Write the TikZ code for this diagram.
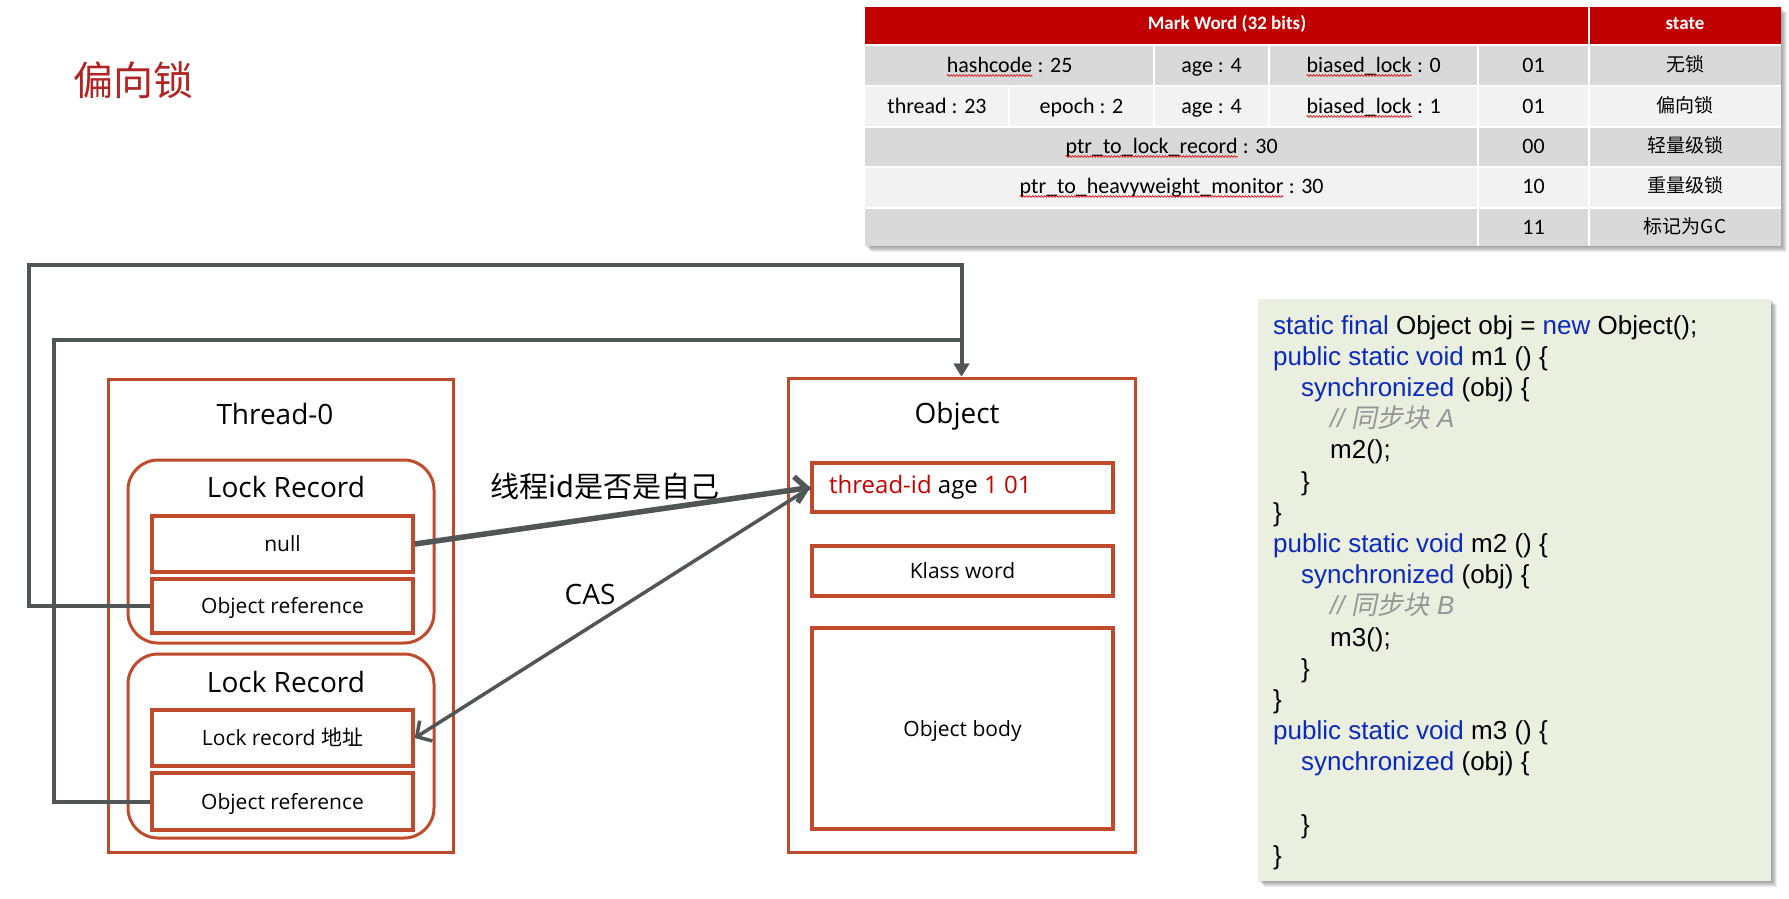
\documentclass[tikz,border=0pt]{standalone}
\usepackage{fontspec}
\setmainfont{Open Sans}
\newfontfamily\tblfont{Carlito}
\newfontfamily\cjkfont{Noto Sans CJK SC}
\newfontfamily\cjkslant{Noto Sans CJK SC}[FakeSlant=0.2]
\newfontfamily\codefont{Liberation Sans}
\usetikzlibrary{arrows.meta,decorations.pathmorphing}
\definecolor{boxred}{RGB}{191,74,44}
\definecolor{conngray}{RGB}{80,86,86}
\definecolor{titlered}{RGB}{178,36,36}
\definecolor{hdrred}{RGB}{192,0,0}
\definecolor{rowdark}{RGB}{217,217,217}
\definecolor{rowlight}{RGB}{242,242,242}
\definecolor{codebg}{RGB}{235,239,223}
\definecolor{kwblue}{RGB}{10,42,190}
\definecolor{cmtgray}{RGB}{150,150,150}
\definecolor{tidred}{RGB}{200,0,0}
\newcommand\fsz[1]{\fontsize{#1}{#1}\selectfont}
\newcommand\kwd[1]{\textcolor{kwblue}{#1}}
\newcommand\cmnt[1]{\textcolor{cmtgray}{\itshape // {\cjkslant 同步块} #1}}
\newcommand\sqw[1]{\tikz[baseline=(sqwn.base)]{\node[inner sep=0pt,outer sep=0pt,anchor=base](sqwn){#1};\draw[red!85!black,line width=0.6pt,decorate,decoration={snake,amplitude=0.9pt,segment length=3pt}]([yshift=-3.5pt]sqwn.base west)--([yshift=-3.5pt]sqwn.base east);}}
\tikzset{
  outerbox/.style={draw=boxred,line width=3pt,inner sep=0pt},
  rbox/.style={draw=boxred,line width=3pt,rounded corners=30pt,inner sep=0pt},
  slot/.style={draw=boxred,line width=3.5pt,inner sep=0pt,font=\fsz{21},text height=15pt,text depth=0pt},
  lbl/.style={inner sep=0pt,font=\fsz{28}},
  conn/.style={draw=conngray,line width=4pt},
  cell/.style={anchor=base,inner sep=0pt,font=\tblfont\fsz{22}},
  hcell/.style={anchor=base,inner sep=0pt,text=white,font=\tblfont\bfseries\fsz{19}},
  scell/.style={anchor=base,inner sep=0pt,font=\cjkfont\fsz{19}},
  codeline/.style={anchor=base west,inner sep=0pt,font=\codefont\fsz{26}},
}
\begin{document}
\begin{tikzpicture}[x=1pt,y=-1pt]
\useasboundingbox (0,0) rectangle (1789,898);
% title
\node[font=\cjkfont\fsz{40},text=titlered,inner sep=0pt] (title) at (133,80) {偏向锁};
% ---------- table ----------
\foreach \i in {1,...,6} \fill[black,opacity=0.07] (865+\i,7+\i) rectangle (1781+\i,246+\i);
\fill[hdrred] (865,7) rectangle (1781,44);
\fill[white] (865,44) rectangle (1781,46);
\fill[rowdark] (865,46) rectangle (1781,86);
\fill[rowlight] (865,86) rectangle (1781,127);
\fill[rowdark] (865,127) rectangle (1781,167);
\fill[rowlight] (865,167) rectangle (1781,208);
\fill[rowdark] (865,208) rectangle (1781,246);
\begin{scope}[draw=white,line width=2pt]
\draw (865,86) -- (1781,86);
\draw (865,127) -- (1781,127);
\draw (865,167) -- (1781,167);
\draw (865,208) -- (1781,208);
\draw (1589,7) -- (1589,246);
\draw (1478,46) -- (1478,246);
\draw (1154,46) -- (1154,127);
\draw (1269,46) -- (1269,127);
\draw (1009,86) -- (1009,127);
\end{scope}
\node[hcell] (hmw) at (1227,29) {Mark Word (32 bits)};
\node[hcell] (hst) at (1685,29) {state};
\node[cell] (r1a) at (1009.5,72) {\sqw{hashcode} : 25};
\node[cell] (r1b) at (1211.5,72) {age : 4};
\node[cell] (r1c) at (1373.5,72) {\sqw{biased\_lock} : 0};
\node[cell] (r1d) at (1533.5,72) {01};
\node[scell] (r1e) at (1685,71) {无锁};
\node[cell] (r2a) at (937,113) {thread : 23};
\node[cell] (r2b) at (1081.5,113) {epoch : 2};
\node[cell] (r2c) at (1211.5,113) {age : 4};
\node[cell] (r2d) at (1373.5,113) {\sqw{biased\_lock} : 1};
\node[cell] (r2e) at (1533.5,113) {01};
\node[scell] (r2f) at (1685,112) {偏向锁};
\node[cell] (r3a) at (1171.5,153) {\sqw{ptr\_to\_lock\_record} : 30};
\node[cell] (r3b) at (1533.5,153) {00};
\node[scell] (r3c) at (1685,152) {轻量级锁};
\node[cell] (r4a) at (1171.5,193) {\sqw{ptr\_to\_heavyweight\_monitor} : 30};
\node[cell] (r4b) at (1533.5,193) {10};
\node[scell] (r4c) at (1685,192) {重量级锁};
\node[cell] (r5a) at (1533.5,234) {11};
\node[scell] (r5b) at (1685,233) {标记为GC};
% ---------- thread ----------
\node[outerbox,minimum width=345pt,minimum height=473pt] (thread) at (280.5,615.5) {};
\node[lbl] (thrl) at (275,414) {Thread-0};
\node[rbox,minimum width=306pt,minimum height=183pt] (lr1) at (281,551.5) {};
\node[lbl] (lr1l) at (286,487) {Lock Record};
\node[slot,minimum width=261pt,minimum height=56pt] (null) at (282.5,544) {null};
\node[slot,minimum width=261pt,minimum height=54pt] (oref1) at (282.5,606) {Object reference};
\node[rbox,minimum width=306pt,minimum height=184pt] (lr2) at (281,746) {};
\node[lbl] (lr2l) at (286,682) {Lock Record};
\node[slot,minimum width=261pt,minimum height=56pt] (laddr) at (282.5,738) {Lock record {\cjkfont 地址}};
\node[slot,minimum width=261pt,minimum height=57pt] (oref2) at (282.5,801.5) {Object reference};
% ---------- object ----------
\node[outerbox,minimum width=347pt,minimum height=474pt] (obj) at (961.5,615) {};
\node[lbl] (objl) at (957,416) {Object};
\node[slot,minimum width=301pt,minimum height=49pt] (tid) at (962.5,487.5) {};
\node[anchor=base west,inner sep=0pt,font=\fsz{24}] (tidl) at (829,493) {\textcolor{tidred}{thread-id} age \textcolor{tidred}{1 01}};
\node[slot,minimum width=301pt,minimum height=50pt] (klass) at (962.5,571) {Klass word};
\node[slot,minimum width=301pt,minimum height=201pt] (body) at (962.5,728.5) {Object body};
% ---------- connectors ----------
\coordinate (c1) at (29,265);
\coordinate (c2) at (54,340);
\draw[conn,-{Triangle[length=13pt,width=15pt]}] (oref1.west) -| (c1) -| (obj.north);
\draw[conn,-{Triangle[length=13pt,width=15pt]}] (oref2.west) -| (c2) -| (obj.north);
\draw[conn,line width=5.5pt,-{Straight Barb[length=11pt,width=26pt]}] (null.east) -- (tid.west);
\draw[conn,line width=3.5pt,-{Straight Barb[length=11pt,width=24pt]}] (tid.west) -- (laddr.east);
\node[inner sep=0pt,font=\cjkfont\fsz{29}] (q) at (605,486) {线程id是否是自己};
\node[lbl] (cas) at (590,594) {CAS};
% ---------- code ----------
\foreach \i in {1,...,6} \fill[black,opacity=0.07] (1258+\i,299+\i) rectangle (1771+\i,881+\i);
\node[fill=codebg,inner sep=0pt,minimum width=513pt,minimum height=582pt] (code) at (1514.5,590) {};
\node[codeline] (k1) at (1273,334) {\kwd{static final} Object obj = \kwd{new} Object();};
\node[codeline] (k2) at (1273,365.2) {\kwd{public static void} m1 () \{};
\node[codeline] (k3) at (1301,396.4) {\kwd{synchronized} (obj) \{};
\node[codeline] (k4) at (1330,427.6) {\cmnt{A}};
\node[codeline] (k5) at (1330,458.8) {m2();};
\node[codeline] (k6) at (1301,490) {\}};
\node[codeline] (k7) at (1273,521.2) {\}};
\node[codeline] (k8) at (1273,552.4) {\kwd{public static void} m2 () \{};
\node[codeline] (k9) at (1301,583.6) {\kwd{synchronized} (obj) \{};
\node[codeline] (k10) at (1330,614.8) {\cmnt{B}};
\node[codeline] (k11) at (1330,646) {m3();};
\node[codeline] (k12) at (1301,677.2) {\}};
\node[codeline] (k13) at (1273,708.4) {\}};
\node[codeline] (k14) at (1273,739.6) {\kwd{public static void} m3 () \{};
\node[codeline] (k15) at (1301,770.8) {\kwd{synchronized} (obj) \{};
\node[codeline] (k17) at (1301,833.2) {\}};
\node[codeline] (k18) at (1273,864.4) {\}};
\end{tikzpicture}
\end{document}
